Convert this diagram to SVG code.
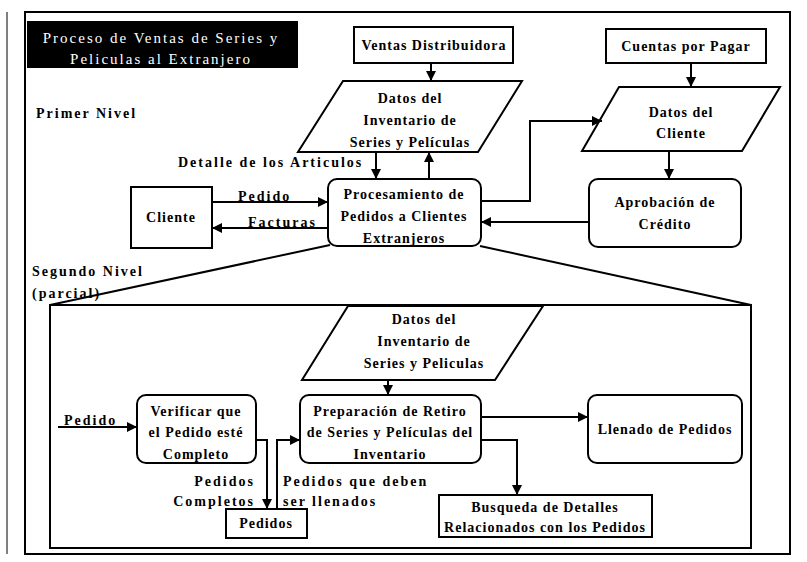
<svg xmlns="http://www.w3.org/2000/svg" width="807" height="562" viewBox="0 0 807 562">
  <style>
    .box { fill: #fff; stroke: #000; stroke-width: 2; }
    .ln { fill: none; stroke: #000; stroke-width: 2; }
    .t { font-family: "Liberation Serif", "DejaVu Serif", serif; font-weight: bold; font-size: 14px; letter-spacing: 1px; fill: #000; text-anchor: middle; }
    .lbl { font-family: "Liberation Serif", "DejaVu Serif", serif; font-weight: bold; font-size: 14px; letter-spacing: 2px; fill: #000; }
    .title { font-family: "Liberation Serif", "DejaVu Serif", serif; font-size: 15px; letter-spacing: 2px; fill: #fff; text-anchor: middle; }
  </style>
  <defs>
    <marker id="arr" viewBox="0 0 10 10" refX="10" refY="5" markerWidth="5" markerHeight="5" orient="auto" markerUnits="strokeWidth">
      <path d="M0,0 L10,5 L0,10 z" fill="#000"/>
    </marker>
  </defs>

  <rect width="807" height="562" fill="#fff"/>

  <!-- outer frame -->
  <rect x="25" y="12" width="765" height="542" fill="none" stroke="#000" stroke-width="2"/>
  <line x1="7" y1="12" x2="7" y2="554" stroke="#000" stroke-width="1"/>

  <!-- title block -->
  <g id="title">
    <rect x="27" y="21" width="271" height="47" fill="#000"/>
    <text class="title" x="161" y="43">Proceso de Ventas de Series y</text>
    <text class="title" x="161" y="64">Peliculas al Extranjero</text>
  </g>

  <text class="lbl" x="36" y="118">Primer Nivel</text>
  <text class="lbl" x="32" y="276">Segundo Nivel</text>
  <text class="lbl" x="32" y="298">(parcial)</text>

  <!-- first level nodes -->
  <g id="ventas">
    <rect class="box" x="354" y="27" width="159" height="36"/>
    <text class="t" x="434" y="50">Ventas Distribuidora</text>
  </g>
  <g id="datos-inventario">
    <polygon class="box" points="343,81 522,81 478,152 298,152"/>
    <text class="t" x="410" y="103">Datos del</text>
    <text class="t" x="410" y="125">Inventario de</text>
    <text class="t" x="410" y="147">Series y Películas</text>
  </g>
  <g id="cuentas">
    <rect class="box" x="606" y="29" width="160" height="34"/>
    <text class="t" x="686" y="51">Cuentas por Pagar</text>
  </g>
  <g id="datos-cliente">
    <polygon class="box" points="619,87 780,87 742,151 582,151"/>
    <text class="t" x="681" y="117">Datos del</text>
    <text class="t" x="681" y="138">Cliente</text>
  </g>
  <g id="cliente">
    <rect class="box" x="131" y="187" width="81" height="61"/>
    <text class="t" x="171" y="222">Cliente</text>
  </g>
  <g id="procesamiento">
    <rect class="box" x="328" y="179" width="153" height="67" rx="9"/>
    <text class="t" x="404" y="199">Procesamiento de</text>
    <text class="t" x="404" y="221">Pedidos a Clientes</text>
    <text class="t" x="404" y="243">Extranjeros</text>
  </g>
  <g id="aprobacion">
    <rect class="box" x="589" y="179" width="152" height="68" rx="9"/>
    <text class="t" x="665" y="207">Aprobación de</text>
    <text class="t" x="665" y="229">Crédito</text>
  </g>

  <!-- second level frame -->
  <g id="detalle-marco">
    <rect x="50" y="305" width="701" height="243" fill="none" stroke="#000" stroke-width="2"/>
  </g>

  <!-- second level nodes -->
  <g id="datos-inventario-2">
    <polygon class="box" points="348,306 543,306 495,380 302,380"/>
    <text class="t" x="424" y="324">Datos del</text>
    <text class="t" x="424" y="346">Inventario de</text>
    <text class="t" x="424" y="368">Series y Peliculas</text>
  </g>
  <g id="verificar">
    <rect class="box" x="137" y="395" width="119" height="68" rx="9"/>
    <text class="t" x="196" y="416">Verificar que</text>
    <text class="t" x="196" y="437">el Pedido esté</text>
    <text class="t" x="196" y="459">Completo</text>
  </g>
  <g id="preparacion">
    <rect class="box" x="300" y="395" width="181" height="68" rx="9"/>
    <text class="t" x="390" y="416">Preparación de Retiro</text>
    <text class="t" x="390" y="437">de Series y Películas del</text>
    <text class="t" x="390" y="459">Inventario</text>
  </g>
  <g id="llenado">
    <rect class="box" x="588" y="395" width="154" height="68" rx="9"/>
    <text class="t" x="665" y="434">Llenado de Pedidos</text>
  </g>
  <g id="pedidos">
    <rect class="box" x="226" y="509" width="81" height="29"/>
    <text class="t" x="266" y="528">Pedidos</text>
  </g>
  <g id="busqueda">
    <rect class="box" x="439" y="495" width="213" height="42"/>
    <text class="t" x="545" y="512">Busqueda de Detalles</text>
    <text class="t" x="545" y="532">Relacionados con los Pedidos</text>
  </g>

  <!-- connectors -->
  <g id="connectors">
    <line class="ln" x1="431" y1="63" x2="431" y2="81" marker-end="url(#arr)"/>
    <line class="ln" x1="691" y1="63" x2="691" y2="87" marker-end="url(#arr)"/>
    <line class="ln" x1="669" y1="151" x2="669" y2="179" marker-end="url(#arr)"/>
    <line class="ln" x1="376" y1="152" x2="376" y2="179" marker-end="url(#arr)"/>
    <line class="ln" x1="429" y1="179" x2="429" y2="152" marker-end="url(#arr)"/>
    <line class="ln" x1="212" y1="202" x2="328" y2="202" marker-end="url(#arr)"/>
    <line class="ln" x1="328" y1="228" x2="212" y2="228" marker-end="url(#arr)"/>
    <polyline class="ln" points="481,201 530,201 530,121 602,121" marker-end="url(#arr)"/>
    <line class="ln" x1="589" y1="222" x2="481" y2="222" marker-end="url(#arr)"/>
    <line class="ln" x1="330" y1="245" x2="50" y2="305"/>
    <line class="ln" x1="480" y1="246" x2="751" y2="305"/>

    <line class="ln" x1="388" y1="380" x2="388" y2="395" marker-end="url(#arr)"/>
    <line class="ln" x1="58" y1="427" x2="137" y2="427" marker-end="url(#arr)"/>
    <polyline class="ln" points="256,440 267,440 267,509" marker-end="url(#arr)"/>
    <polyline class="ln" points="277,509 277,440 300,440" marker-end="url(#arr)"/>
    <line class="ln" x1="481" y1="417" x2="588" y2="417" marker-end="url(#arr)"/>
    <polyline class="ln" points="481,440 517,440 517,495" marker-end="url(#arr)"/>

    <text class="lbl" x="178" y="167">Detalle de los Articulos</text>
    <text class="lbl" x="238" y="201">Pedido</text>
    <text class="lbl" x="248" y="227">Facturas</text>
    <text class="lbl" x="64" y="425">Pedido</text>
    <text class="lbl" x="255" y="486" text-anchor="end">Pedidos</text>
    <text class="lbl" x="255" y="506" text-anchor="end">Completos</text>
    <text class="lbl" x="283" y="486">Pedidos que deben</text>
    <text class="lbl" x="283" y="506">ser llenados</text>
  </g>
</svg>
